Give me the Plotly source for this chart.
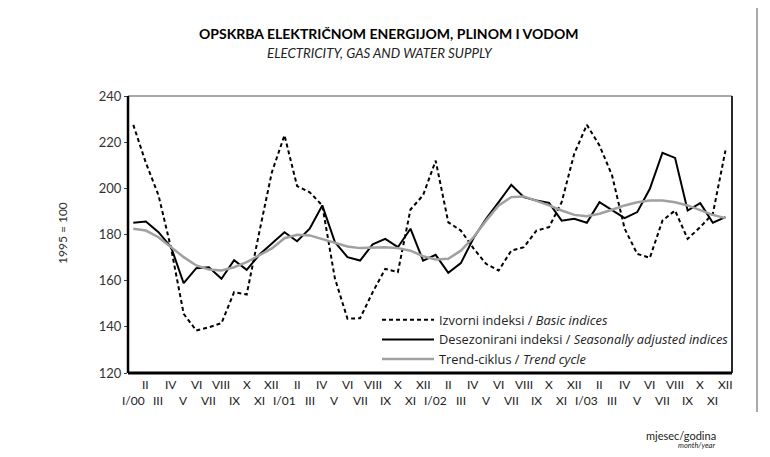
import plotly.graph_objects as go

months = list(range(48))
top_labels = ["II", "IV", "VI", "VIII", "X", "XII"] * 4
bottom_labels = ["I/00", "III", "V", "VII", "IX", "XI",
                 "I/01", "III", "V", "VII", "IX", "XI",
                 "I/02", "III", "V", "VII", "IX", "XI",
                 "I/03", "III", "V", "VII", "IX", "XI"]

basic = [227.5, 211, 197, 174, 145.6, 138.4, 139.8, 141.6, 155, 154, 181, 207,
         223, 201, 198.3, 192.6, 161, 143.5, 143.7, 155, 165.1, 163.7, 190.8, 197,
         212, 185.3, 181.7, 174, 167.3, 164.4, 173, 174.5, 181.7, 183.2, 194, 215,
         227.5, 218.6, 205.6, 182.5, 171.6, 169.9, 186, 190.4, 178.1, 183.2, 189, 216.4]

seasonal = [185.1, 185.6, 181, 174.5, 158.9, 165.4, 165.8, 160.8, 168.9, 164.7, 171.2, 176,
            181, 177.1, 182.5, 192.6, 176.7, 170.2, 168.7, 175.7, 178.1, 174.5, 182.5, 168.7,
            171.2, 163.4, 167.6, 178.4, 186.8, 194, 201.5, 196.2, 194.7, 193.7, 186, 186.8,
            185.1, 194, 190.4, 187.1, 189.7, 199.8, 215.4, 213.2, 190.4, 193.6, 185.1, 187.5]

trend = [182.5, 181.7, 178.8, 174.5, 170.2, 166.6, 164.8, 164.4, 165.8, 168, 170.9, 174,
         178.4, 179.9, 179.6, 178.1, 176.4, 174.8, 174.1, 174.2, 174.5, 174.1, 173, 170.6,
         169.2, 169.5, 173, 178.8, 186, 192.6, 196.2, 196.5, 194.7, 192.6, 190.4, 188.5,
         187.9, 189, 190.7, 192.6, 194, 194.7, 194.7, 194, 192.6, 190.4, 188.5, 187.1]

FONT = "Lato"
LFONT = "Open Sans"

# page offset (browser body margin) compensation
OFF = 8
PW, PH = 770, 457
L, R, T, B = 128, 732, 96, 373   # plot box in page pixels
W, H = R - L, B - T


def px(x):
    return (x - L) / W


def py(y):
    return (B - y) / H


fig = go.Figure()
fig.add_trace(go.Scatter(x=months, y=basic, mode="lines",
                         name="Izvorni indeksi / <i>Basic indices</i>",
                         line=dict(color="black", width=2, dash="4px,3px")))
fig.add_trace(go.Scatter(x=months, y=seasonal, mode="lines",
                         name="Desezonirani indeksi / <i>Seasonally adjusted indices</i>",
                         line=dict(color="black", width=2)))
fig.add_trace(go.Scatter(x=months, y=trend, mode="lines",
                         name="Trend-ciklus / <i>Trend cycle</i>",
                         line=dict(color="#a0a0a0", width=2.5)))

annotations = []
for k, lab in enumerate(top_labels):
    annotations.append(dict(x=2 * k + 1, y=0, xref="x", yref="paper", text=lab,
                            showarrow=False, yanchor="middle", yshift=-11,
                            font=dict(family=FONT, size=12, color="#222")))
for k, lab in enumerate(bottom_labels):
    annotations.append(dict(x=2 * k, y=0, xref="x", yref="paper", text=lab,
                            showarrow=False, yanchor="middle", yshift=-27,
                            font=dict(family=FONT, size=12, color="#222")))


def txt(x, y, text, size, xanchor="center", angle=0, color="#222"):
    return dict(x=px(x), y=py(y), xref="paper", yref="paper", text=text,
                xanchor=xanchor, yanchor="middle", textangle=angle,
                showarrow=False, font=dict(family=FONT, size=size, color=color))


annotations += [
    txt(389, 34, "<b>OPSKRBA ELEKTRIČNOM ENERGIJOM, PLINOM I VODOM</b>", 14, color="black"),
    txt(380, 53, "<i>ELECTRICITY, GAS AND WATER SUPPLY</i>", 13.3),
    txt(718, 435, "mjesec/godina", 11, xanchor="right"),
    txt(717, 445, "<i>month/year</i>", 7.5, xanchor="right"),
    txt(62, 233, "1995 = 100", 12, angle=-90, color="#333"),
]

shapes = [
    dict(type="rect", xref="paper", yref="paper", x0=0, x1=1, y0=0, y1=1,
         line=dict(color="#555", width=1)),
    dict(type="line", xref="paper", yref="paper", x0=0, x1=0, y0=0, y1=1,
         line=dict(color="black", width=2.5)),
    dict(type="line", xref="paper", yref="paper", x0=0, x1=1, y0=0, y1=0,
         line=dict(color="black", width=3)),
    dict(type="line", xref="paper", yref="paper", x0=1, x1=1, y0=0, y1=1,
         line=dict(color="black", width=1.5)),
    dict(type="line", xref="paper", yref="paper",
         x0=px(757), x1=px(757), y0=py(OFF), y1=py(412),
         line=dict(color="#555", width=1)),
]

fig.update_layout(
    width=PW - OFF, height=PH - OFF,
    margin=dict(l=L - OFF, r=PW - R, t=T - OFF, b=PH - B),
    paper_bgcolor="white", plot_bgcolor="white",
    font=dict(family=FONT, color="#222"),
    showlegend=True,
    legend=dict(x=px(377), y=py(305), xanchor="left", yanchor="top",
                bgcolor="rgba(0,0,0,0)", font=dict(family=LFONT, size=12.8, color="#222"),
                itemwidth=52, tracegroupgap=0),
    xaxis=dict(range=[-0.42, 47.52], showticklabels=False, ticks="",
               showgrid=False, zeroline=False, showline=False),
    yaxis=dict(range=[120, 240], tickvals=[120, 140, 160, 180, 200, 220, 240],
               ticks="outside", ticklen=3, tickcolor="#444",
               showgrid=False, zeroline=False, showline=False,
               tickfont=dict(family=FONT, size=13, color="#333")),
    annotations=annotations,
    shapes=shapes,
)

fig.write_html("out.html")
